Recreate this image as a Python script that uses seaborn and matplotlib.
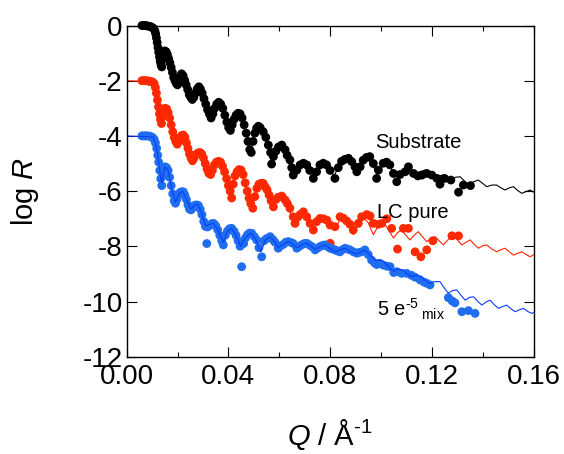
"""
Neutron reflectivity profiles (log R vs Q) for substrate, LC pure and 5e-5 mix,
with fitted curves. Curves are offset by -2 decades each.
"""

import pandas as pd
import matplotlib
matplotlib.use("Agg")
import matplotlib.pyplot as plt
from matplotlib.ticker import MultipleLocator, FormatStrFormatter
import seaborn as sns

# ----------------------------------------------------------------------------
# Data
sub_q = [0.0060, 0.0066, 0.0072, 0.0078, 0.0084, 0.0090, 0.0096, 0.0102, 0.0107, 0.0111,
         0.0114, 0.0117, 0.0120, 0.0123, 0.0126, 0.0129, 0.0132, 0.0135, 0.0138, 0.0142,
         0.0146, 0.0150, 0.0155, 0.0160, 0.0165, 0.0170, 0.0175, 0.0180, 0.0185, 0.0190,
         0.0195, 0.0200, 0.0205, 0.0210, 0.0216, 0.0222, 0.0228, 0.0234, 0.0240, 0.0246,
         0.0252, 0.0258, 0.0264, 0.0270, 0.0277, 0.0284, 0.0290, 0.0297, 0.0304, 0.0311,
         0.0318, 0.0325, 0.0332, 0.0339, 0.0346, 0.0354, 0.0362, 0.0370, 0.0378, 0.0386,
         0.0394, 0.0401, 0.0408, 0.0415, 0.0422, 0.0430, 0.0438, 0.0446, 0.0454, 0.0462,
         0.0470, 0.0477, 0.0484, 0.0490, 0.0497, 0.0504, 0.0511, 0.0518, 0.0525, 0.0537,
         0.0547, 0.0557, 0.0566, 0.0570, 0.0577, 0.0587, 0.0597, 0.0610, 0.0623, 0.0631,
         0.0642, 0.0649, 0.0655, 0.0669, 0.0682, 0.0695, 0.0708, 0.0720, 0.0734, 0.0747,
         0.0760, 0.0773, 0.0786, 0.0800, 0.0819, 0.0832, 0.0845, 0.0858, 0.0872, 0.0885,
         0.0898, 0.0905, 0.0918, 0.0930, 0.0943, 0.0956, 0.0970, 0.0983, 0.0990, 0.1009,
         0.1022, 0.1035, 0.1049, 0.1062, 0.1075, 0.1095, 0.1108, 0.1128, 0.1145, 0.1161,
         0.1180, 0.1200, 0.1220, 0.1232, 0.1250, 0.1275, 0.1305, 0.1324, 0.1352]
sub_r = [0.00, 0.00, 0.00, -0.01, -0.02, -0.03, -0.05, -0.08, -0.12, -0.2,
         -0.3, -0.45, -0.62, -0.8, -0.97, -1.14, -1.3, -1.43, -1.5, -1.22,
         -1.02, -0.92, -0.95, -1.05, -1.2, -1.35, -1.52, -1.7, -1.88, -2.0,
         -2.1, -2.15, -2.05, -1.85, -1.75, -1.82, -1.98, -2.15, -2.32, -2.5,
         -2.6, -2.68, -2.6, -2.45, -2.3, -2.22, -2.3, -2.45, -2.65, -2.85,
         -3.05, -3.2, -3.35, -3.2, -3.0, -2.85, -2.78, -2.85, -3.0, -3.25,
         -3.5, -3.7, -3.8, -3.6, -3.4, -3.25, -3.18, -3.2, -3.35, -3.6,
         -3.9, -4.2, -4.5, -4.6, -4.2, -3.9, -3.72, -3.65, -3.7, -3.85,
         -4.05, -4.33, -4.6, -5.02, -4.75, -4.55, -4.4, -4.33, -4.5, -4.7,
         -4.87, -5.15, -5.42, -5.24, -5.05, -4.99, -5.05, -5.25, -5.54, -5.3,
         -5.05, -4.99, -5.05, -5.25, -5.54, -5.15, -4.92, -4.85, -4.81, -4.93,
         -5.12, -5.3, -5.12, -4.88, -4.78, -4.75, -5.0, -5.54, -5.24, -4.99,
         -4.95, -5.05, -5.36, -5.66, -5.4, -5.3, -5.12, -5.36, -5.45, -5.42,
         -5.36, -5.42, -5.54, -5.75, -5.54, -5.6, -6.04, -5.78, -5.8]

lc_q = [0.0060, 0.0066, 0.0072, 0.0078, 0.0084, 0.0090, 0.0096, 0.0102, 0.0108, 0.0113,
        0.0117, 0.0121, 0.0125, 0.0129, 0.0133, 0.0137, 0.0141, 0.0146, 0.0151, 0.0157,
        0.0163, 0.0169, 0.0175, 0.0181, 0.0187, 0.0193, 0.0199, 0.0205, 0.0211, 0.0217,
        0.0223, 0.0229, 0.0235, 0.0241, 0.0247, 0.0253, 0.0259, 0.0265, 0.0272, 0.0280,
        0.0288, 0.0295, 0.0302, 0.0309, 0.0316, 0.0323, 0.0330, 0.0337, 0.0345, 0.0353,
        0.0361, 0.0369, 0.0377, 0.0385, 0.0393, 0.0400, 0.0407, 0.0413, 0.0419, 0.0426,
        0.0434, 0.0442, 0.0450, 0.0458, 0.0466, 0.0474, 0.0481, 0.0488, 0.0496, 0.0504,
        0.0512, 0.0520, 0.0528, 0.0537, 0.0545, 0.0552, 0.0560, 0.0568, 0.0577, 0.0587,
        0.0596, 0.0610, 0.0623, 0.0632, 0.0642, 0.0655, 0.0662, 0.0672, 0.0682, 0.0695,
        0.0708, 0.0721, 0.0734, 0.0747, 0.0760, 0.0773, 0.0787, 0.0800, 0.0800, 0.0819,
        0.0839, 0.0852, 0.0865, 0.0878, 0.0891, 0.0911, 0.0924, 0.0944, 0.0957, 0.0970,
        0.0990, 0.1003, 0.1023, 0.1042, 0.1065, 0.1088, 0.1108, 0.1134, 0.1157, 0.1180,
        0.1204, 0.1279, 0.1305]
lc_r = [-2.0, -2.0, -2.0, -2.0, -2.01, -2.02, -2.03, -2.05, -2.1, -2.25,
        -2.45, -2.7, -2.95, -3.2, -3.4, -3.55, -3.3, -3.1, -3.0, -3.02,
        -3.15, -3.35, -3.6, -3.85, -4.05, -4.2, -4.3, -4.2, -4.05, -3.98,
        -3.97, -4.05, -4.25, -4.45, -4.65, -4.8, -4.9, -4.8, -4.68, -4.62,
        -4.6, -4.65, -4.8, -5.0, -5.2, -5.35, -5.4, -5.25, -5.05, -4.95,
        -4.92, -4.95, -5.1, -5.3, -5.55, -5.8, -6.0, -6.25, -5.75, -5.45,
        -5.3, -5.22, -5.24, -5.4, -5.7, -6.0, -6.25, -6.45, -6.62, -6.2,
        -5.9, -5.75, -5.72, -5.72, -5.85, -5.95, -6.14, -6.35, -6.57, -6.3,
        -6.22, -6.18, -6.32, -6.45, -6.62, -6.93, -7.17, -6.95, -6.85, -6.75,
        -6.93, -7.17, -7.41, -7.11, -6.99, -7.0, -7.05, -7.23, -7.89, -7.29,
        -6.93, -6.98, -7.08, -7.2, -7.41, -7.17, -6.93, -6.85, -6.9, -7.17,
        -7.2, -7.17, -7.0, -7.35, -8.1, -7.35, -7.35, -8.2, -8.38, -8.13,
        -7.8, -7.62, -7.62]

mix_q = [0.0060, 0.0066, 0.0072, 0.0078, 0.0084, 0.0090, 0.0096, 0.0102, 0.0108, 0.0113,
         0.0118, 0.0122, 0.0126, 0.0130, 0.0134, 0.0138, 0.0142, 0.0147, 0.0151, 0.0157,
         0.0163, 0.0169, 0.0175, 0.0181, 0.0187, 0.0192, 0.0198, 0.0204, 0.0210, 0.0217,
         0.0223, 0.0229, 0.0235, 0.0241, 0.0247, 0.0253, 0.0260, 0.0267, 0.0274, 0.0282,
         0.0289, 0.0296, 0.0303, 0.0310, 0.0315, 0.0318, 0.0326, 0.0334, 0.0342, 0.0350,
         0.0358, 0.0366, 0.0374, 0.0380, 0.0388, 0.0396, 0.0405, 0.0413, 0.0422, 0.0430,
         0.0438, 0.0446, 0.0452, 0.0460, 0.0467, 0.0475, 0.0483, 0.0492, 0.0502, 0.0511,
         0.0520, 0.0531, 0.0540, 0.0550, 0.0564, 0.0574, 0.0583, 0.0596, 0.0606, 0.0616,
         0.0626, 0.0636, 0.0646, 0.0655, 0.0669, 0.0679, 0.0688, 0.0698, 0.0708, 0.0718,
         0.0728, 0.0741, 0.0750, 0.0760, 0.0770, 0.0780, 0.0790, 0.0800, 0.0810, 0.0819,
         0.0829, 0.0839, 0.0849, 0.0859, 0.0869, 0.0878, 0.0892, 0.0905, 0.0915, 0.0924,
         0.0937, 0.0950, 0.0963, 0.0975, 0.0983, 0.0996, 0.1009, 0.1023, 0.1036, 0.1050,
         0.1062, 0.1081, 0.1101, 0.1120, 0.1134, 0.1154, 0.1170, 0.1180, 0.1193, 0.1265,
         0.1280, 0.1291, 0.1318, 0.1344, 0.1370]
mix_r = [-4.0, -4.0, -4.0, -4.0, -4.0, -4.01, -4.03, -4.06, -4.12, -4.25,
         -4.45, -4.7, -4.95, -5.25, -5.55, -5.8, -5.45, -5.2, -5.12, -5.15,
         -5.25, -5.5, -5.8, -6.1, -6.35, -6.44, -6.3, -6.15, -6.05, -6.02,
         -6.03, -6.15, -6.3, -6.5, -6.65, -6.68, -6.6, -6.52, -6.5, -6.52,
         -6.65, -6.85, -7.1, -7.28, -7.9, -7.3, -7.25, -7.18, -7.17, -7.25,
         -7.4, -7.6, -7.8, -7.95, -7.6, -7.45, -7.36, -7.35, -7.45, -7.6,
         -7.8, -8.0, -8.74, -7.9, -7.7, -7.58, -7.52, -7.53, -7.65, -7.77,
         -8.05, -8.38, -7.8, -7.72, -7.65, -7.75, -7.85, -8.07, -7.98, -7.93,
         -7.85, -7.83, -7.86, -7.9, -8.07, -8.0, -7.95, -7.9, -7.89, -7.95,
         -8.01, -8.13, -8.07, -8.01, -7.97, -7.95, -8.01, -8.07, -8.1, -8.13,
         -8.17, -8.2, -8.12, -8.07, -8.1, -8.13, -8.2, -8.25, -8.22, -8.2,
         -8.13, -8.3, -8.5, -8.6, -8.66, -8.62, -8.68, -8.72, -8.74, -8.95,
         -8.92, -8.98, -8.98, -9.05, -9.12, -9.22, -9.3, -9.34, -9.4, -9.86,
         -9.98, -10.05, -10.37, -10.33, -10.43]

# fitted curves
sub_fit_q = [0.0, 0.0105, 0.0112, 0.0120, 0.0128, 0.0136, 0.0142, 0.0150, 0.0160, 0.0175,
             0.0190, 0.0200, 0.0208, 0.0216, 0.0228, 0.0245, 0.0258, 0.0270, 0.0284, 0.0297,
             0.0318, 0.0332, 0.0346, 0.0362, 0.0378, 0.0394, 0.0408, 0.0422, 0.0440, 0.0454,
             0.0470, 0.0488, 0.0500, 0.0518, 0.0535, 0.0555, 0.0570, 0.0585, 0.0605, 0.0625,
             0.0642, 0.0655, 0.0672, 0.0692, 0.0712, 0.0734, 0.0752, 0.0772, 0.0792, 0.0815,
             0.0835, 0.0860, 0.0882, 0.0903, 0.0920, 0.0945, 0.0965, 0.0985, 0.1005, 0.1025,
             0.1045, 0.1065, 0.1085, 0.1101, 0.1118, 0.1134, 0.1153, 0.1173, 0.1190, 0.1206,
             0.1226, 0.1245, 0.1258, 0.1272, 0.1292, 0.1311, 0.1328, 0.1344, 0.1364, 0.1383,
             0.1400, 0.1416, 0.1436, 0.1455, 0.1471, 0.1488, 0.1505, 0.1521, 0.1538, 0.1554,
             0.1570, 0.1587, 0.1600]
sub_fit_r = [0.0, -0.02, -0.2, -0.62, -1.08, -1.45, -1.25, -0.95, -1.05, -1.5,
             -2.0, -2.12, -1.95, -1.78, -1.97, -2.48, -2.66, -2.45, -2.24, -2.45,
             -3.05, -3.32, -3.0, -2.8, -3.02, -3.5, -3.78, -3.42, -3.2, -3.35,
             -3.9, -4.5, -4.05, -3.68, -3.85, -4.35, -4.85, -4.55, -4.35, -4.55,
             -4.9, -5.3, -5.15, -5.0, -5.1, -5.45, -5.2, -5.0, -5.1, -5.45,
             -5.1, -4.88, -4.95, -5.25, -5.05, -4.85, -5.0, -5.4, -5.05, -5.0,
             -5.25, -5.45, -5.25, -5.17, -5.3, -5.42, -5.3, -5.24, -5.4, -5.54,
             -5.45, -5.42, -5.52, -5.6, -5.5, -5.48, -5.63, -5.78, -5.66, -5.6,
             -5.72, -5.84, -5.78, -5.78, -5.88, -5.96, -5.88, -5.84, -5.98, -6.08,
             -6.02, -5.96, -6.04]

lc_fit_q = [0.0, 0.0105, 0.0112, 0.0120, 0.0130, 0.0137, 0.0143, 0.0151, 0.0163, 0.0180,
            0.0199, 0.0211, 0.0223, 0.0240, 0.0259, 0.0272, 0.0288, 0.0310, 0.0330, 0.0345,
            0.0365, 0.0390, 0.0410, 0.0425, 0.0448, 0.0470, 0.0494, 0.0512, 0.0532, 0.0555,
            0.0575, 0.0592, 0.0610, 0.0630, 0.0662, 0.0680, 0.0697, 0.0715, 0.0734, 0.0752,
            0.0773, 0.0795, 0.0819, 0.0837, 0.0855, 0.0873, 0.0891, 0.0910, 0.0930, 0.0950,
            0.0970, 0.0990, 0.1009, 0.1028, 0.1049, 0.1066, 0.1081, 0.1098, 0.1114, 0.1130,
            0.1147, 0.1164, 0.1180, 0.1196, 0.1213, 0.1229, 0.1245, 0.1265, 0.1285, 0.1302,
            0.1318, 0.1335, 0.1351, 0.1367, 0.1383, 0.1400, 0.1416, 0.1436, 0.1455, 0.1472,
            0.1488, 0.1505, 0.1521, 0.1538, 0.1554, 0.1571, 0.1587, 0.1600]
lc_fit_r = [-2.0, -2.03, -2.25, -2.65, -3.25, -3.5, -3.25, -3.0, -3.15, -3.8,
            -4.28, -4.05, -3.97, -4.42, -4.88, -4.68, -4.6, -5.05, -5.38, -5.05,
            -4.92, -5.45, -6.0, -5.45, -5.22, -5.85, -6.5, -5.9, -5.72, -6.0,
            -6.5, -6.25, -6.2, -6.45, -7.2, -6.85, -6.72, -7.0, -7.4, -7.05,
            -6.92, -7.1, -7.42, -7.05, -6.92, -7.15, -7.58, -7.15, -6.95, -7.15,
            -7.58, -7.25, -7.12, -7.38, -7.7, -7.5, -7.41, -7.6, -7.77, -7.6,
            -7.47, -7.66, -7.83, -7.72, -7.65, -7.8, -7.95, -7.75, -7.59, -7.78,
            -7.95, -7.85, -7.77, -7.93, -8.07, -7.98, -7.95, -8.1, -8.2, -8.12,
            -8.07, -8.2, -8.32, -8.25, -8.2, -8.3, -8.38, -8.3]

mix_fit_q = [0.0, 0.0105, 0.0112, 0.0120, 0.0128, 0.0134, 0.0138, 0.0143, 0.0151, 0.0163,
             0.0178, 0.0192, 0.0205, 0.0220, 0.0237, 0.0253, 0.0268, 0.0280, 0.0295, 0.0310,
             0.0325, 0.0340, 0.0358, 0.0380, 0.0395, 0.0413, 0.0430, 0.0448, 0.0465, 0.0488,
             0.0510, 0.0528, 0.0545, 0.0564, 0.0580, 0.0596, 0.0616, 0.0636, 0.0652, 0.0669,
             0.0688, 0.0708, 0.0725, 0.0741, 0.0760, 0.0780, 0.0800, 0.0819, 0.0840, 0.0859,
             0.0880, 0.0905, 0.0920, 0.0937, 0.0955, 0.0975, 0.0995, 0.1010, 0.1030, 0.1050,
             0.1068, 0.1085, 0.1102, 0.1120, 0.1138, 0.1155, 0.1172, 0.1190, 0.1210, 0.1232,
             0.1248, 0.1265, 0.1282, 0.1298, 0.1315, 0.1331, 0.1348, 0.1364, 0.1381, 0.1397,
             0.1413, 0.1429, 0.1446, 0.1462, 0.1478, 0.1495, 0.1512, 0.1528, 0.1544, 0.1560,
             0.1577, 0.1593, 0.1600]
mix_fit_r = [-4.0, -4.04, -4.25, -4.6, -5.1, -5.55, -5.7, -5.4, -5.12, -5.25,
             -5.95, -6.4, -6.12, -6.0, -6.35, -6.65, -6.5, -6.48, -6.8, -7.25,
             -7.22, -7.15, -7.4, -7.85, -7.48, -7.34, -7.6, -8.0, -7.7, -7.52,
             -7.8, -8.2, -7.78, -7.65, -7.82, -8.05, -7.92, -7.82, -7.92, -8.05,
             -7.95, -7.88, -8.0, -8.12, -8.02, -7.95, -8.08, -8.2, -8.12, -8.07,
             -8.2, -8.28, -8.2, -8.15, -8.3, -8.5, -8.5, -8.55, -8.75, -8.9,
             -8.82, -8.85, -9.0, -9.1, -9.05, -9.08, -9.22, -9.35, -9.28, -9.28,
             -9.5, -9.7, -9.6, -9.58, -9.78, -9.95, -9.85, -9.83, -10.0, -10.13,
             -10.02, -9.95, -10.12, -10.25, -10.18, -10.13, -10.27, -10.37, -10.3, -10.25,
             -10.36, -10.43, -10.4]

series_names = ["Substrate", "LC pure", "mix"]
marker_colors = {"Substrate": "#000000", "LC pure": "#ff2a00", "mix": "#1f6ef0"}
line_colors = {"Substrate": "#000000", "LC pure": "#ff2200", "mix": "#0a3cff"}

pts = pd.concat([
    pd.DataFrame({"Q": sub_q, "logR": sub_r, "series": "Substrate"}),
    pd.DataFrame({"Q": lc_q, "logR": lc_r, "series": "LC pure"}),
    pd.DataFrame({"Q": mix_q, "logR": mix_r, "series": "mix"}),
], ignore_index=True)
fits = pd.concat([
    pd.DataFrame({"Q": sub_fit_q, "logR": sub_fit_r, "series": "Substrate"}),
    pd.DataFrame({"Q": lc_fit_q, "logR": lc_fit_r, "series": "LC pure"}),
    pd.DataFrame({"Q": mix_fit_q, "logR": mix_fit_r, "series": "mix"}),
], ignore_index=True)

# ----------------------------------------------------------------------------
sns.set_theme(style="ticks")
plt.rcParams["font.family"] = ["Liberation Sans", "DejaVu Sans"]
plt.rcParams["mathtext.fontset"] = "custom"
plt.rcParams["mathtext.rm"] = "Liberation Sans"
plt.rcParams["mathtext.it"] = "Liberation Sans:italic"
plt.rcParams["axes.unicode_minus"] = False
for key in ["text.color", "axes.labelcolor", "xtick.color", "ytick.color",
            "xtick.labelcolor", "ytick.labelcolor"]:
    plt.rcParams[key] = "black"

fig = plt.figure(figsize=(5.64, 4.54), dpi=100)
ax = fig.add_axes([0.2246, 0.2143, 0.7214, 0.7295])

sns.scatterplot(data=pts, x="Q", y="logR", hue="series", hue_order=series_names,
                palette=marker_colors, s=40, linewidth=0, legend=False, ax=ax,
                clip_on=False)
sns.lineplot(data=fits, x="Q", y="logR", hue="series", hue_order=series_names,
             palette=line_colors, estimator=None, sort=False, linewidth=0.8,
             legend=False, ax=ax)

ax.set_xlim(0, 0.16)
ax.set_ylim(-12, 0)
ax.xaxis.set_major_locator(MultipleLocator(0.04))
ax.xaxis.set_minor_locator(MultipleLocator(0.02))
ax.xaxis.set_major_formatter(FormatStrFormatter("%.2f"))
ax.yaxis.set_major_locator(MultipleLocator(2))
ax.tick_params(which="both", direction="in", top=True, right=True, width=0.8,
               labelsize=20, color="black")
ax.tick_params(which="major", length=7.5)
ax.tick_params(which="minor", length=3.5)
ax.tick_params(axis="x", pad=5)
ax.tick_params(axis="y", pad=3)
for sp in ax.spines.values():
    sp.set_visible(True)
    sp.set_linewidth(1.0)
    sp.set_color("black")

ax.set_xlabel(r"$Q$ / Å$^{\text{-1}}$", fontsize=21, labelpad=20)
ax.set_ylabel(r"log $R$", fontsize=21, labelpad=30)

ax.text(0.0977, -4.44, "Substrate", fontsize=14.5)
ax.text(0.0983, -6.97, "LC pure", fontsize=14.5)
ax.text(0.0983, -10.55, r"5 e$^{\text{-5}}\,{}_{\mathrm{mix}}$", fontsize=14.5)

fig.savefig("out.png", dpi=100)
